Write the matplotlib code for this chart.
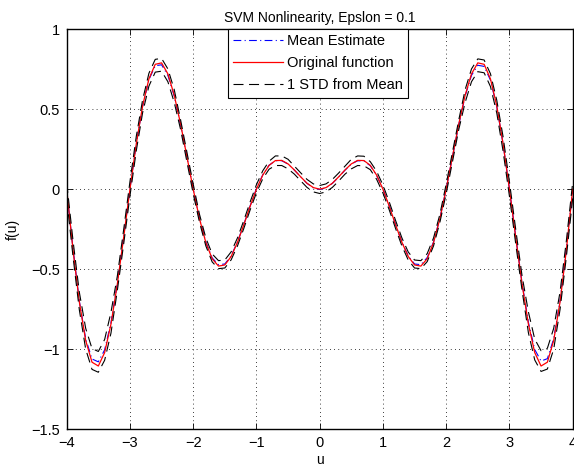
import numpy as np
import matplotlib
matplotlib.use("Agg")
import matplotlib.pyplot as plt

# sample points along u (step 0.1)
u = np.round(np.arange(-40, 41) / 10.0, 1)

# original function
original = [
    0.000, -0.381, -0.706, -0.946, -1.082, -1.106, -1.022, -0.844, -0.595, -0.303,
    0.000, 0.283, 0.520, 0.690, 0.781, 0.790, 0.721, 0.588, 0.409, 0.205,
    0.000, -0.186, -0.334, -0.435, -0.481, -0.474, -0.421, -0.332, -0.223, -0.107,
    0.000, 0.088, 0.149, 0.179, 0.180, 0.158, 0.120, 0.077, 0.037, 0.010,
    0.000,
    0.010, 0.037, 0.077, 0.120, 0.158, 0.180, 0.179, 0.149, 0.088, 0.000,
    -0.107, -0.223, -0.332, -0.421, -0.474, -0.481, -0.435, -0.334, -0.186, 0.000,
    0.205, 0.409, 0.588, 0.721, 0.790, 0.781, 0.690, 0.520, 0.283, 0.000,
    -0.303, -0.595, -0.844, -1.022, -1.106, -1.082, -0.946, -0.706, -0.381, 0.000,
]

# mean estimate (blue dash-dot)
mean_est = [
    -0.010, -0.372, -0.700, -0.935, -1.062, -1.080, -1.005, -0.835, -0.590, -0.300,
    0.002, 0.285, 0.518, 0.685, 0.772, 0.778, 0.712, 0.583, 0.405, 0.203,
    0.002, -0.183, -0.330, -0.430, -0.472, -0.468, -0.417, -0.330, -0.221, -0.105,
    0.003, 0.090, 0.150, 0.178, 0.178, 0.157, 0.119, 0.077, 0.036, 0.008,
    -0.002,
    0.008, 0.036, 0.076, 0.119, 0.157, 0.178, 0.176, 0.147, 0.087, 0.001,
    -0.105, -0.221, -0.330, -0.418, -0.468, -0.472, -0.428, -0.330, -0.183, 0.002,
    0.203, 0.405, 0.583, 0.712, 0.775, 0.768, 0.682, 0.516, 0.282, 0.001,
    -0.298, -0.588, -0.833, -1.003, -1.075, -1.060, -0.935, -0.698, -0.373, -0.008,
]

# standard deviation of the estimate
std_est = [
    0.050, 0.050, 0.055, 0.065, 0.065, 0.065, 0.065, 0.065, 0.045, 0.045,
    0.045, 0.045, 0.040, 0.040, 0.040, 0.040, 0.040, 0.040, 0.030, 0.030,
    0.030, 0.025, 0.025, 0.025, 0.025, 0.025, 0.025, 0.025, 0.025, 0.025,
    0.025, 0.025, 0.025, 0.030, 0.030, 0.030, 0.025, 0.025, 0.025, 0.025,
    0.025,
    0.025, 0.025, 0.025, 0.025, 0.030, 0.030, 0.030, 0.025, 0.025, 0.025,
    0.025, 0.025, 0.025, 0.025, 0.025, 0.025, 0.025, 0.025, 0.025, 0.030,
    0.030, 0.030, 0.040, 0.040, 0.040, 0.040, 0.040, 0.040, 0.045, 0.045,
    0.045, 0.045, 0.065, 0.065, 0.065, 0.065, 0.065, 0.055, 0.050, 0.050,
]

xticks = [-4, -3, -2, -1, 0, 1, 2, 3, 4]
yticks = [-1.5, -1, -0.5, 0, 0.5, 1]
yticklabels = ["\u22121.5", "\u22121", "\u22120.5", "0", "0.5", "1"]

mean_est = np.array(mean_est)
std_est = np.array(std_est)

plt.rcParams.update({
    'font.family': ['Liberation Sans', 'DejaVu Sans'],
    'font.size': 10.5,
    'xtick.direction': 'in',
    'ytick.direction': 'in',
})

fig = plt.figure(figsize=(5.74, 4.65), dpi=100)
ax = fig.add_axes([0.1162, 0.0774, 0.8815, 0.8596])

ax.plot(u, mean_est, color='blue', linestyle=(0, (7, 3, 1, 3)), linewidth=0.8,
        label='Mean Estimate')
ax.plot(u, original, color='red', linestyle='-', linewidth=0.9,
        label='Original function')
ax.plot(u, mean_est + std_est, color='black', linestyle=(0, (9, 5)), linewidth=0.8,
        label='1 STD from Mean')
ax.plot(u, mean_est - std_est, color='black', linestyle=(0, (9, 5)), linewidth=0.8)

ax.set_xlim(-4, 4)
ax.set_ylim(-1.5, 1)
ax.set_xticks(xticks)
ax.set_xticklabels([str(t).replace('-', '\u2212') for t in xticks])
ax.set_yticks(yticks)
ax.set_yticklabels(yticklabels)
ax.tick_params(top=True, right=True, length=4, width=0.6, labelsize=10.5, pad=5)
ax.grid(True, linestyle=(0, (1, 4)), color='black', linewidth=0.6)
for s in ax.spines.values():
    s.set_linewidth(1.0)

ax.set_title("SVM Nonlinearity, Epslon = 0.1", fontsize=10, pad=5)
ax.set_xlabel("u", fontsize=10, labelpad=2)
ax.set_ylabel("f(u)", fontsize=10, labelpad=8)

leg = ax.legend(loc='upper center', bbox_to_anchor=(0.497, 1.0), borderaxespad=0,
                fancybox=False, edgecolor='black', framealpha=1, fontsize=10.5,
                handlelength=3.4, handletextpad=0.3, borderpad=0.35, labelspacing=0.55)
leg.get_frame().set_linewidth(0.8)

fig.savefig("out.png", dpi=100)
